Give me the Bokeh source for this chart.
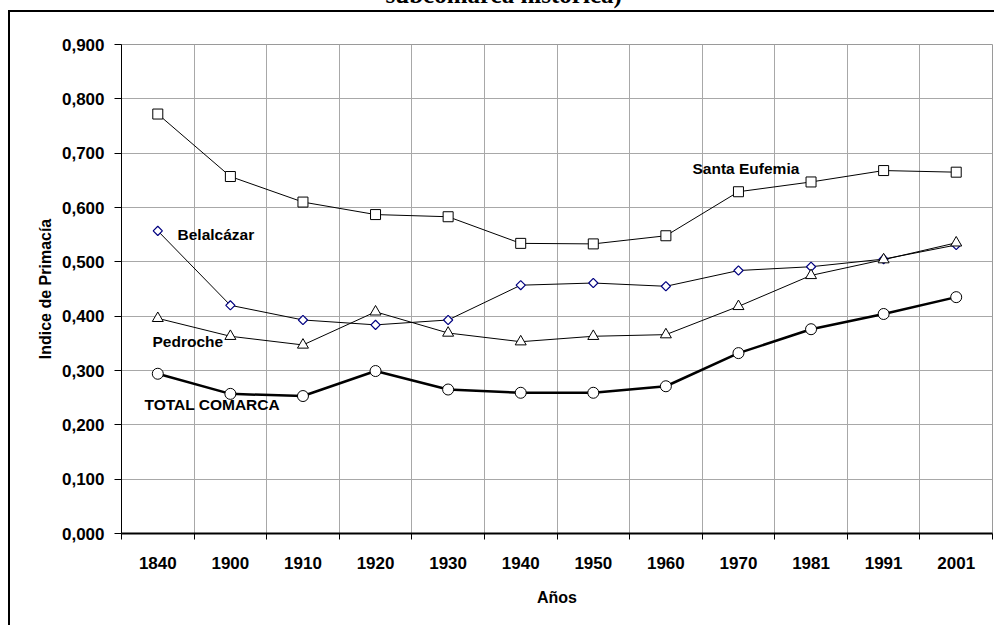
import math
from bokeh.plotting import figure
from bokeh.models import Range1d, FixedTicker, CustomJSTickFormatter, Label, ColumnDataSource
from bokeh.embed import file_html
from bokeh.resources import INLINE

# ---- data ----
years = ["1840", "1900", "1910", "1920", "1930", "1940", "1950", "1960", "1970", "1981", "1991", "2001"]
santa_eufemia = [0.772, 0.657, 0.610, 0.587, 0.583, 0.534, 0.533, 0.548, 0.629, 0.647, 0.668, 0.665]
belalcazar = [0.557, 0.420, 0.393, 0.384, 0.393, 0.457, 0.461, 0.455, 0.484, 0.491, 0.505, 0.531]
pedroche = [0.396, 0.363, 0.347, 0.408, 0.369, 0.353, 0.363, 0.366, 0.418, 0.475, 0.504, 0.535]
total_comarca = [0.294, 0.257, 0.253, 0.299, 0.265, 0.259, 0.259, 0.271, 0.332, 0.376, 0.404, 0.435]
y_ticks = [0.0, 0.1, 0.2, 0.3, 0.4, 0.5, 0.6, 0.7, 0.8, 0.9]
title_text = "subcomarca histórica)"
x_title = "Años"
y_title = "Indice de Primacía"

xs = list(range(1, len(years) + 1))
bounds = [i + 0.5 for i in range(0, len(years) + 1)]

FONT = "Liberation Sans"
SHIFT = 70  # canvas starts this far above the page top, so the title is cut as in the source

p = figure(width=994, height=625 + SHIFT,
           x_range=Range1d(0.5, len(years) + 0.5), y_range=Range1d(0, 0.9),
           output_backend="svg", toolbar_location=None,
           min_border_left=121, min_border_right=2, min_border_top=44 + SHIFT, min_border_bottom=92)
# outer chart-area border (left and top edges) drawn behind the transparent canvas
p.styles = {
    "margin-top": f"-{SHIFT}px",
    "background": (f"linear-gradient(black, black) 8px {SHIFT + 10}px / 2px 100% no-repeat, "
                   f"linear-gradient(black, black) 8px {SHIFT + 10}px / 100% 2px no-repeat, white"),
}
p.background_fill_color = "white"
p.border_fill_color = None
p.border_fill_alpha = 0
p.outline_line_color = "#9a9a9a"
p.outline_line_width = 1

# title (only its lower part shows in the source)
p.title.text = title_text
p.title.text_font = "Liberation Serif"
p.title.text_font_style = "bold"
p.title.text_font_size = "25px"
p.title.text_color = "black"
p.title.align = "left"
p.title.offset = 264
p.title.vertical_align = "bottom"
p.title.standoff = 74

# grids
p.xgrid.ticker = FixedTicker(ticks=bounds)
p.ygrid.ticker = FixedTicker(ticks=y_ticks)
for g in (p.xgrid, p.ygrid):
    g.grid_line_color = "#a8a8a8"
    g.grid_line_width = 1

# x axis
xa = p.xaxis[0]
xa.ticker = FixedTicker(ticks=xs, minor_ticks=bounds)
xa.major_label_overrides = {x: y for x, y in zip(xs, years)}
xa.major_tick_out = 0
xa.major_tick_in = 0
xa.minor_tick_out = 6
xa.minor_tick_in = 0
xa.minor_tick_line_color = "black"
xa.axis_line_color = "black"
xa.axis_line_width = 2
xa.major_label_standoff = 17
xa.major_label_text_font = FONT
xa.major_label_text_font_style = "bold"
xa.major_label_text_font_size = "17px"
xa.major_label_text_color = "black"
xa.axis_label = x_title
xa.axis_label_text_font = FONT
xa.axis_label_text_font_style = "bold"
xa.axis_label_text_font_size = "16px"
xa.axis_label_text_color = "black"
xa.axis_label_standoff = 17

# y axis
ya = p.yaxis[0]
ya.ticker = FixedTicker(ticks=y_ticks)
ya.formatter = CustomJSTickFormatter(code="return tick.toFixed(3).replace('.', ',');")
ya.major_tick_out = 7
ya.major_tick_in = 0
ya.minor_tick_out = 0
ya.minor_tick_in = 0
ya.major_tick_line_color = "black"
ya.axis_line_color = "black"
ya.axis_line_width = 1
ya.major_label_standoff = 10
ya.major_label_text_font = FONT
ya.major_label_text_font_style = "bold"
ya.major_label_text_font_size = "17px"
ya.major_label_text_color = "black"
ya.axis_label = y_title
ya.axis_label_text_font = FONT
ya.axis_label_text_font_style = "bold"
ya.axis_label_text_font_size = "16px"
ya.axis_label_text_color = "black"
ya.axis_label_standoff = 5

# series
src = ColumnDataSource(dict(x=xs, se=santa_eufemia, be=belalcazar, pe=pedroche, tc=total_comarca))

p.line("x", "se", source=src, line_color="black", line_width=1)
p.scatter("x", "se", source=src, marker="square", size=10, fill_color="white", line_color="black", line_width=1)

p.line("x", "be", source=src, line_color="black", line_width=1)
p.scatter("x", "be", source=src, marker="square", angle=math.pi / 4, size=6.5,
          fill_color="white", line_color="#000080", line_width=1.2)

p.line("x", "pe", source=src, line_color="black", line_width=1)
p.scatter("x", "pe", source=src, marker="triangle", size=11, fill_color="white", line_color="black", line_width=1)

p.line("x", "tc", source=src, line_color="black", line_width=2.5)
p.scatter("x", "tc", source=src, marker="circle", size=11, fill_color="white", line_color="black", line_width=1)

# series labels
def lab(txt, x, y):
    p.add_layout(Label(x=x, y=y, text=txt, text_font=FONT, text_font_style="bold",
                       text_font_size="15.5px", text_color="black",
                       text_align="left", text_baseline="middle"))

lab("Santa Eufemia", 8.367, 0.672)
lab("Belalcázar", 1.272, 0.550)
lab("Pedroche", 0.927, 0.353)
lab("TOTAL COMARCA", 0.817, 0.237)

open("out.html", "w").write(file_html(p, INLINE))
